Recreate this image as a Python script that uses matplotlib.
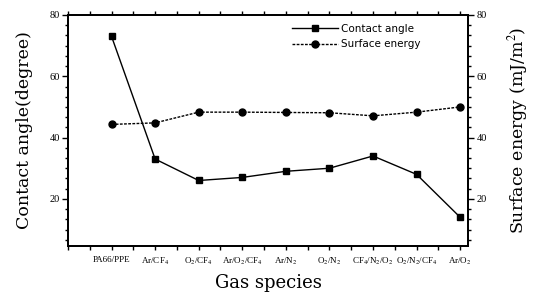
#!/usr/bin/env python3

import matplotlib
matplotlib.use('Agg')
import matplotlib.pyplot as plt
from matplotlib.ticker import MultipleLocator
import numpy as np

# Data
gases = ['PA66/PPE', 'Ar/CF$_4$', 'O$_2$/CF$_4$', 'Ar/O$_2$/CF$_4$', 'Ar/N$_2$',
         'O$_2$/N$_2$', 'CF$_4$/N$_2$/O$_2$', 'O$_2$/N$_2$/CF$_4$', 'Ar/O$_2$']
contact_angle = [73, 33, 26, 27, 29, 30, 34, 28, 14]
surface_energy = [44.3, 44.8, 48.3, 48.3, 48.2, 48.1, 47.1, 48.3, 50.0]

plt.rcParams['font.family'] = 'DejaVu Serif'
plt.rcParams['mathtext.fontset'] = 'stix'

x = np.arange(1, len(gases) + 1)

fig = plt.figure(figsize=(5.37, 2.94), dpi=100)
ax = fig.add_axes([0.1266, 0.163, 0.7449, 0.786])
ax2 = ax.twinx()

l1, = ax.plot(x, contact_angle, color='black', lw=1.0, marker='s', markersize=5,
              label='Contact angle')
l2, = ax2.plot(x, surface_energy, color='black', lw=1.0, linestyle=(0, (2, 1)),
               marker='o', markersize=5, label='Surface energy')

tick_font = {'family': 'Liberation Serif', 'size': 7.5}

for a in (ax, ax2):
    a.set_ylim(4.6, 80)
    a.yaxis.set_major_locator(MultipleLocator(20))
    a.yaxis.set_minor_locator(MultipleLocator(20 / 6))
    a.tick_params(axis='y', which='major', length=4, width=1.0, pad=2)
    a.tick_params(axis='y', which='minor', length=2.5, width=1.0)
    for lab in a.get_yticklabels():
        lab.set_fontfamily(tick_font['family'])
        lab.set_fontsize(tick_font['size'])
    for s in a.spines.values():
        s.set_linewidth(1.3)

ax.set_xlim(0, 9.18)
ax.set_xticks(x)
ax.set_xticklabels(gases, fontfamily=tick_font['family'], fontsize=6.5)
ax.xaxis.set_minor_locator(MultipleLocator(0.5))
ax.tick_params(axis='x', which='both', length=3, width=1.0, top=True, pad=4)

ax.set_xlabel('Gas species', fontsize=13, labelpad=5)
ax.set_ylabel('Contact angle(degree)', fontsize=12.5, labelpad=12)
ax2.set_ylabel('Surface energy (mJ/m$^2$)', fontsize=12.5, labelpad=14)

leg = ax.legend(handles=[l1, l2], loc='upper left', bbox_to_anchor=(0.545, 0.99),
                frameon=False, handlelength=4.4, handletextpad=0.3,
                labelspacing=0.55, borderaxespad=0.2,
                prop={'family': 'DejaVu Sans', 'size': 7.5})

plt.savefig('out.png', dpi=100)
plt.close()
